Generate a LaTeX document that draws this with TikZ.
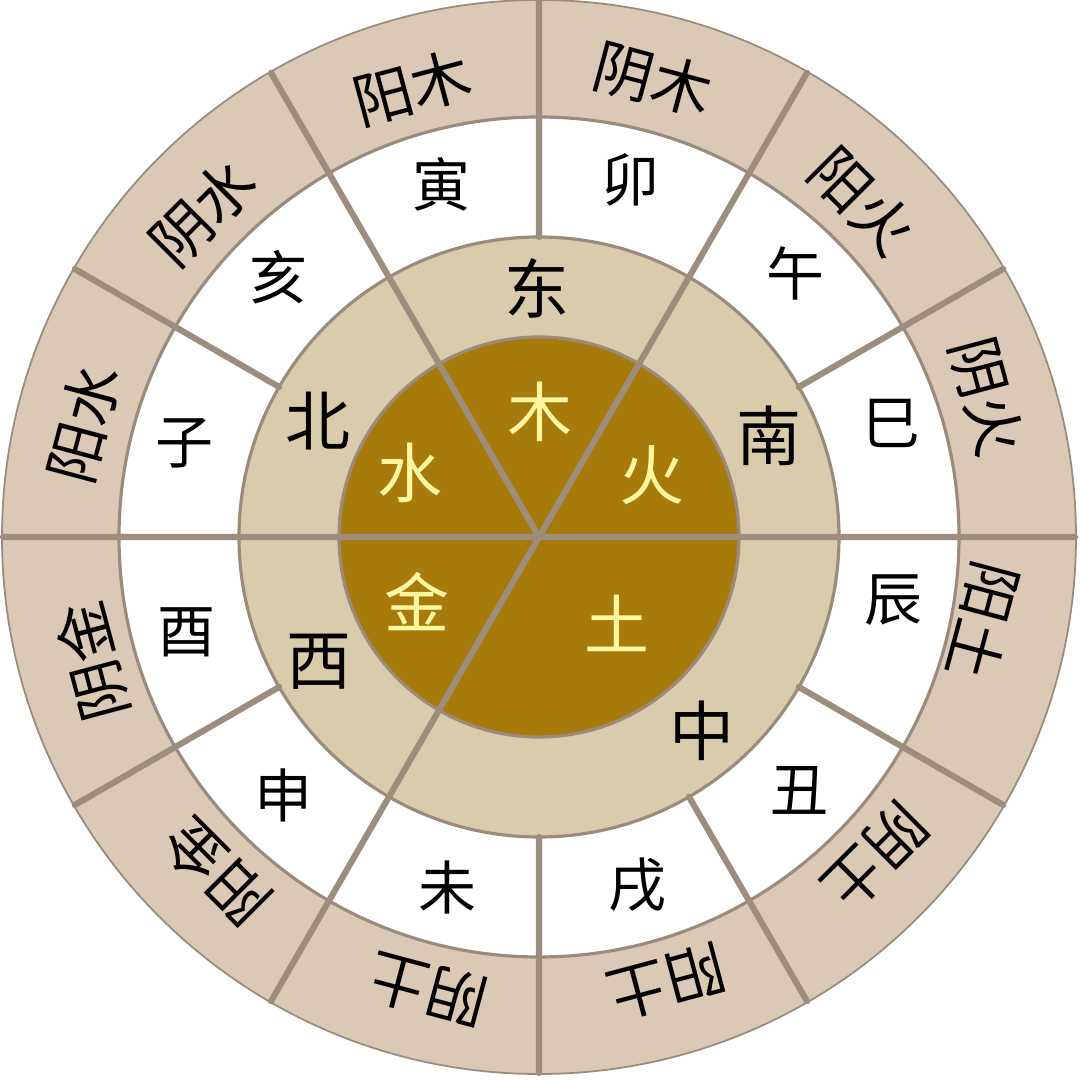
\documentclass[tikz,border=0pt]{standalone}
\usepackage{fontspec}
\newfontfamily\cjk{Noto Sans CJK SC}
\definecolor{ringtan}{RGB}{218, 201, 181}
\definecolor{ringbeige}{RGB}{217, 204, 172}
\definecolor{coregold}{RGB}{167, 122, 12}
\definecolor{spokegray}{RGB}{157, 141, 125}
\definecolor{rimgray}{RGB}{154, 139, 125}
\definecolor{coretext}{RGB}{255, 246, 160}
\usetikzlibrary{calc}

\begin{document}
\begin{tikzpicture}[
  rim/.style={draw=rimgray, line width=0.9pt},
  spoke/.style={draw=spokegray, line width=1.75pt, line cap=round},
  outerlbl/.style={font=\cjk\fontsize{17}{19}\selectfont, inner sep=0pt},
  branchlbl/.style={font=\cjk\fontsize{16.5}{18}\selectfont, inner sep=0pt},
  dirlbl/.style={font=\cjk\fontsize{18.5}{20}\selectfont, inner sep=0pt},
  corelbl/.style={font=\cjk\fontsize{18.5}{20}\selectfont, text=coretext, inner sep=0pt},
]
\useasboundingbox (-5.39,-5.43) rectangle (5.41,5.37);
\coordinate (c) at (0,0);

% Rings
\filldraw[fill=ringtan, draw=rimgray, line width=0.5pt] (c) circle (5.37);
\filldraw[fill=white, rim] (c) circle (4.2);
\filldraw[fill=ringbeige, rim] (c) circle (3.0);
\filldraw[fill=coregold, rim] (c) circle (2.0);

% Spokes
\draw[spoke] (c) -- (0:5.36) (c) -- (60:5.36) (c) -- (120:5.36)
  (c) -- (180:5.36) (c) -- (240:5.36);
\draw[spoke] (30:3) -- (30:5.36) (90:3) -- (90:5.36) (150:3) -- (150:5.36)
  (210:3) -- (210:5.36) (270:3) -- (270:5.36) (300:3) -- (300:5.36)
  (330:3) -- (330:5.36);

% Outer ring
\node[outerlbl, rotate=15] (yangmu) at (105.8:4.67) {阳木};
\node[outerlbl, rotate=-15] (yinmu) at (76:4.72) {阴木};
\node[outerlbl, rotate=-45] (yanghuo) at (46.1:4.66) {阳火};
\node[outerlbl, rotate=-75] (yinhuo) at (17.4:4.69) {阴火};
\node[outerlbl, rotate=-105] (yangtua) at (-10.7:4.52) {阳土};
\node[outerlbl, rotate=-135] (yintua) at (-43.6:4.64) {阴土};
\node[outerlbl, rotate=-165] (yangtub) at (-74:4.63) {阳土};
\node[outerlbl, rotate=165] (yintub) at (-103.8:4.66) {阴土};
\node[outerlbl, rotate=135] (yangjin) at (-133.9:4.65) {阳金};
\node[outerlbl, rotate=105] (yinjin) at (-164.4:4.64) {阴金};
\node[outerlbl, rotate=75] (yangshui) at (166:4.69) {阳水};
\node[outerlbl, rotate=45] (yinshui) at (136:4.67) {阴水};

% Branches
\node[branchlbl] (yin) at (-0.98, 3.53) {寅};
\node[branchlbl] (mao) at (0.91, 3.57) {卯};
\node[branchlbl] (wu) at (2.56, 2.64) {午};
\node[branchlbl] (si) at (3.52, 1.14) {巳};
\node[branchlbl] (chen) at (3.54, -0.63) {辰};
\node[branchlbl] (chou) at (2.60, -2.53) {丑};
\node[branchlbl] (xu) at (0.98, -3.48) {戌};
\node[branchlbl] (wei) at (-0.92, -3.50) {未};
\node[branchlbl] (shen) at (-2.56, -2.58) {申};
\node[branchlbl] (you) at (-3.52, -0.95) {酉};
\node[branchlbl] (zi) at (-3.54, 0.94) {子};
\node[branchlbl] (hai) at (-2.61, 2.60) {亥};

% Directions
\node[dirlbl] (dong) at (-0.02, 2.49) {东};
\node[dirlbl] (nan) at (2.30, 1.01) {南};
\node[dirlbl] (zhong) at (1.63, -1.94) {中};
\node[dirlbl] (xi) at (-2.20, -1.25) {西};
\node[dirlbl] (bei) at (-2.21, 1.16) {北};

% Elements
\node[corelbl] (mu) at (0.01, 1.25) {木};
\node[corelbl] (huo) at (1.13, 0.62) {火};
\node[corelbl] (shui) at (-1.29, 0.64) {水};
\node[corelbl] (jin) at (-1.22, -0.65) {金};
\node[corelbl] (tu) at (0.78, -0.86) {土};
\end{tikzpicture}
\end{document}
